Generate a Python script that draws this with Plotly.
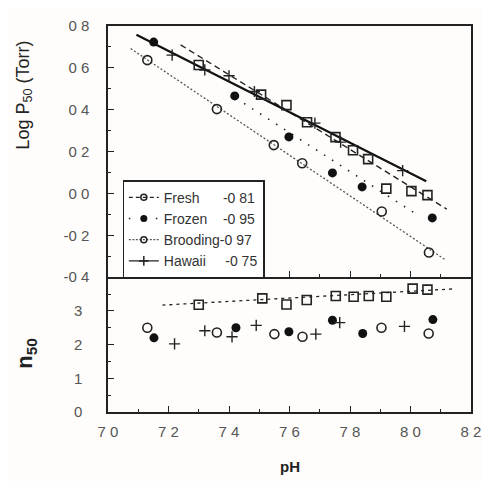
import plotly.graph_objects as go

# ---------------- data ----------------
# top panel: log P50 vs pH
fresh_ph = [7.30, 7.506, 7.59, 7.658, 7.752, 7.81, 7.86, 7.92, 8.003, 8.056]
fresh_logp = [0.614, 0.472, 0.422, 0.34, 0.269, 0.206, 0.164, 0.023, 0.011, -0.008]
frozen_ph = [7.151, 7.419, 7.598, 7.742, 7.84, 8.072]
frozen_logp = [0.723, 0.466, 0.27, 0.098, 0.031, -0.117]
brood_ph = [7.13, 7.36, 7.548, 7.642, 7.905, 8.061]
brood_logp = [0.637, 0.403, 0.231, 0.144, -0.086, -0.282]
hawaii_ph = [7.212, 7.32, 7.40, 7.484, 7.684, 7.769, 7.974]
hawaii_logp = [0.661, 0.59, 0.562, 0.487, 0.336, 0.245, 0.109]

# regression lines (end points)
fresh_fit_ph = [7.24, 8.12]
fresh_fit_logp = [0.71, -0.075]
frozen_fit_ph = [7.45, 8.02]
frozen_fit_logp = [0.43, -0.10]
brood_fit_ph = [7.075, 8.118]
brood_fit_logp = [0.692, -0.32]
hawaii_fit_ph = [7.094, 8.052]
hawaii_fit_logp = [0.758, 0.058]

# bottom panel: n50 vs pH
fresh_n_ph = [7.30, 7.51, 7.59, 7.657, 7.753, 7.812, 7.862, 7.92, 8.007, 8.056]
fresh_n = [3.18, 3.37, 3.19, 3.32, 3.44, 3.42, 3.44, 3.42, 3.66, 3.63]
frozen_n_ph = [7.152, 7.423, 7.598, 7.742, 7.842, 8.074]
frozen_n = [2.20, 2.50, 2.38, 2.72, 2.33, 2.74]
brood_n_ph = [7.13, 7.36, 7.55, 7.643, 7.904, 8.06]
brood_n = [2.50, 2.36, 2.31, 2.23, 2.50, 2.33]
hawaii_n_ph = [7.22, 7.32, 7.41, 7.49, 7.687, 7.766, 7.98]
hawaii_n = [2.02, 2.41, 2.23, 2.57, 2.31, 2.65, 2.54]
fresh_n_fit_ph = [7.18, 8.14]
fresh_n_fit = [3.17, 3.65]

legend_names = ["Fresh\u00a0\u00a0\u00a0\u00a0\u00a0\u00a0-0 81",
                "Frozen\u00a0\u00a0\u00a0\u00a0-0 95",
                "Brooding-0 97",
                "Hawaii\u00a0\u00a0\u00a0\u00a0\u00a0-0 75"]

x_tickvals = [7.0, 7.2, 7.4, 7.6, 7.8, 8.0, 8.2]
x_ticktext = ["7 0", "7 2", "7 4", "7 6", "7 8", "8 0", "8 2"]
y1_tickvals = [-0.4, -0.2, 0.0, 0.2, 0.4, 0.6, 0.8]
y1_ticktext = ["-0 4", "-0 2", "0 0", "0 2", "0 4", "0 6", "0 8"]
y2_tickvals = [0, 1, 2, 3]
y2_ticktext = ["0", "1", "2", "3"]

# ---------------- styles ----------------
INK = "#222222"
GREY = "#555555"
FONT = "Liberation Sans, Arial, sans-serif"

fig = go.Figure()

def add(x, y, xa, ya, **kw):
    fig.add_trace(go.Scatter(x=x, y=y, xaxis=xa, yaxis=ya, showlegend=False,
                             hoverinfo="skip", **kw))

# lines top
add(fresh_fit_ph, fresh_fit_logp, "x", "y", mode="lines",
    line=dict(color=INK, width=1.4, dash="6px,4px"))
add(frozen_fit_ph, frozen_fit_logp, "x", "y", mode="lines",
    line=dict(color=INK, width=1.6, dash="1.5px,8px"))
add(brood_fit_ph, brood_fit_logp, "x", "y", mode="lines",
    line=dict(color=GREY, width=1.3, dash="2px,2px"))
add(hawaii_fit_ph, hawaii_fit_logp, "x", "y", mode="lines",
    line=dict(color="#111111", width=2.2))

# markers top
add(fresh_ph, fresh_logp, "x", "y", mode="markers",
    marker=dict(symbol="square-open", size=9, color=INK, line=dict(width=1.6)))
add(frozen_ph, frozen_logp, "x", "y", mode="markers",
    marker=dict(symbol="circle", size=9, color="#111111"))
add(brood_ph, brood_logp, "x", "y", mode="markers",
    marker=dict(symbol="circle-open", size=9, color=INK, line=dict(width=1.6)))
add(hawaii_ph, hawaii_logp, "x", "y", mode="markers",
    marker=dict(symbol="cross-thin-open", size=8, color=INK, line=dict(width=1.4, color=INK)))

# bottom
add(fresh_n_fit_ph, fresh_n_fit, "x2", "y2", mode="lines",
    line=dict(color=INK, width=1.3, dash="3px,4px"))
add(fresh_n_ph, fresh_n, "x2", "y2", mode="markers",
    marker=dict(symbol="square-open", size=9, color=INK, line=dict(width=1.6)))
add(frozen_n_ph, frozen_n, "x2", "y2", mode="markers",
    marker=dict(symbol="circle", size=9, color="#111111"))
add(brood_n_ph, brood_n, "x2", "y2", mode="markers",
    marker=dict(symbol="circle-open", size=9, color=INK, line=dict(width=1.6)))
add(hawaii_n_ph, hawaii_n, "x2", "y2", mode="markers",
    marker=dict(symbol="cross-thin-open", size=8, color=INK, line=dict(width=1.4, color=INK)))

# legend-only entries
leg_styles = [
    dict(marker=dict(symbol="circle-open", size=6, color=INK, line=dict(width=1.5)),
         line=dict(color=INK, width=1.3, dash="4px,3px")),
    dict(marker=dict(symbol="circle", size=7, color="#111111"),
         line=dict(color=INK, width=1.3, dash="1.5px,12px")),
    dict(marker=dict(symbol="circle-open", size=6, color=INK, line=dict(width=1.5)),
         line=dict(color=GREY, width=1.2, dash="2px,1.5px")),
    dict(marker=dict(symbol="cross-thin-open", size=7, color=INK, line=dict(width=1.5, color=INK)),
         line=dict(color=INK, width=1.3)),
]
for name, st in zip(legend_names, leg_styles):
    fig.add_trace(go.Scatter(x=[None], y=[None], mode="lines+markers", name=name,
                             xaxis="x", yaxis="y", **st))

axis_base = dict(showline=True, linecolor=INK, linewidth=1.5,
                 ticks="inside", tickcolor=INK, tickwidth=1.3, showgrid=False,
                 zeroline=False)
split = 138 / 395
lab_font = dict(size=15, color="#555555")

# page body has an 8px default margin: figure is sized/offset to compensate
fig.update_layout(
    width=482, height=473,
    margin=dict(l=100, r=14, t=9, b=69),
    paper_bgcolor="#fefdfb", plot_bgcolor="#fefdfb",
    font=dict(family=FONT, color="#333333", size=13),
    xaxis=dict(domain=[0, 1], anchor="y", range=[7.0, 8.2], tickvals=x_tickvals,
               showticklabels=False, ticklen=6, mirror=True,
               minor=dict(ticks="inside", ticklen=3, dtick=0.1, tickcolor=INK), **axis_base),
    yaxis=dict(domain=[split, 1], anchor="x", range=[-0.4, 0.8], tickvals=y1_tickvals,
               ticktext=y1_ticktext, ticklen=6, tickfont=lab_font, mirror=True,
               ticklabelstandoff=14,
               minor=dict(ticks="inside", ticklen=3, dtick=0.1, tickcolor=INK), **axis_base),
    xaxis2=dict(domain=[0, 1], anchor="y2", range=[7.0, 8.2], tickvals=x_tickvals,
                ticktext=x_ticktext, ticklen=6, tickfont=lab_font, mirror=False,
                ticklabelstandoff=5,
                minor=dict(ticks="inside", ticklen=3, dtick=0.1, tickcolor=INK), **axis_base),
    yaxis2=dict(domain=[0, split], anchor="x2", range=[0, 4], tickvals=y2_tickvals,
                ticktext=y2_ticktext, ticklen=6, tickfont=lab_font, mirror=True,
                ticklabelstandoff=21,
                minor=dict(ticks="inside", ticklen=3, dtick=0.5, tickcolor=INK), **axis_base),
    legend=dict(x=0.04, y=0.60, xanchor="left", yanchor="top",
                bgcolor="#ffffff", bordercolor=INK, borderwidth=1.3,
                font=dict(family=FONT, size=14, color="#333333"),
                itemwidth=30, tracegroupgap=0),
    showlegend=True,
    annotations=[
        dict(text="Log P<sub>50</sub> (Torr)", xref="paper", yref="paper",
             x=-0.231, y=0.82, xanchor="center", yanchor="middle",
             textangle=-90, showarrow=False,
             font=dict(family=FONT, size=18, color="#222222")),
        dict(text="<b>n<sub>50</sub></b>", xref="paper", yref="paper",
             x=-0.225, y=0.152, xanchor="center", yanchor="middle",
             textangle=-90, showarrow=False,
             font=dict(family=FONT, size=22, color="#222222")),
        dict(text="<b>pH</b>", xref="paper", yref="paper",
             x=0.5, y=-0.14, xanchor="center", yanchor="middle", showarrow=False,
             font=dict(family=FONT, size=15, color="#222222")),
    ],
)

fig.write_html("out.html")
